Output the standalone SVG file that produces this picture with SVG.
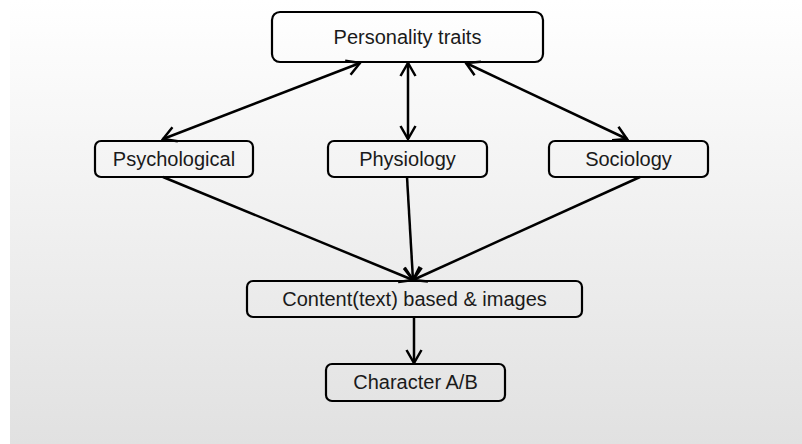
<svg xmlns="http://www.w3.org/2000/svg" width="802" height="444" viewBox="0 0 802 444">
  <style>
    .box { fill: none; stroke: #000; stroke-width: 2.2; }
    .lbl { font-family: "Liberation Sans", Arial, sans-serif; font-size: 20px; fill: #1a1a1a; text-anchor: middle; }
    .conn { stroke: #000; stroke-width: 2.5; fill: none; }
  </style>
  <defs>
    <linearGradient id="bg" x1="0" y1="0" x2="0" y2="1">
      <stop offset="0" stop-color="#ffffff"/>
      <stop offset="1" stop-color="#e1e1e1"/>
    </linearGradient>
    <marker id="arr" markerUnits="userSpaceOnUse" viewBox="0 0 16 18" markerWidth="16" markerHeight="18" refX="14" refY="9" orient="auto-start-reverse">
      <path d="M1,1.5 L14,9 L1,16.5" fill="none" stroke="#000" stroke-width="2.5" stroke-linejoin="miter"/>
    </marker>
  </defs>
  <rect x="0" y="0" width="802" height="444" fill="#ffffff"/>
  <rect x="10" y="0" width="792" height="444" fill="url(#bg)"/>

  <g id="connectors">
    <line class="conn" x1="360" y1="63" x2="163" y2="139" marker-start="url(#arr)" marker-end="url(#arr)"/>
    <line class="conn" x1="408" y1="63" x2="408" y2="139" marker-start="url(#arr)" marker-end="url(#arr)"/>
    <line class="conn" x1="466" y1="63" x2="627" y2="139" marker-start="url(#arr)" marker-end="url(#arr)"/>
    <line class="conn" x1="163" y1="177" x2="413" y2="280" marker-end="url(#arr)"/>
    <line class="conn" x1="407" y1="177" x2="413" y2="280" marker-end="url(#arr)"/>
    <line class="conn" x1="640" y1="177" x2="413" y2="280" marker-end="url(#arr)"/>
    <line class="conn" x1="414" y1="317" x2="414" y2="363" marker-end="url(#arr)"/>
  </g>

  <g id="personality">
    <rect class="box" x="272" y="12" width="271" height="50" rx="8"/>
    <text class="lbl" x="407.5" y="44">Personality traits</text>
  </g>
  <g id="psychological">
    <rect class="box" x="95" y="141" width="158" height="36" rx="6"/>
    <text class="lbl" x="174" y="166">Psychological</text>
  </g>
  <g id="physiology">
    <rect class="box" x="328" y="141" width="159" height="36" rx="6"/>
    <text class="lbl" x="407.5" y="166">Physiology</text>
  </g>
  <g id="sociology">
    <rect class="box" x="549" y="141" width="159" height="36" rx="6"/>
    <text class="lbl" x="628.5" y="166">Sociology</text>
  </g>
  <g id="content">
    <rect class="box" x="247" y="281" width="335" height="36" rx="6"/>
    <text class="lbl" x="414.5" y="306">Content(text) based &amp; images</text>
  </g>
  <g id="character">
    <rect class="box" x="326" y="364" width="179" height="37" rx="6"/>
    <text class="lbl" x="415.5" y="389">Character A/B</text>
  </g>
</svg>
